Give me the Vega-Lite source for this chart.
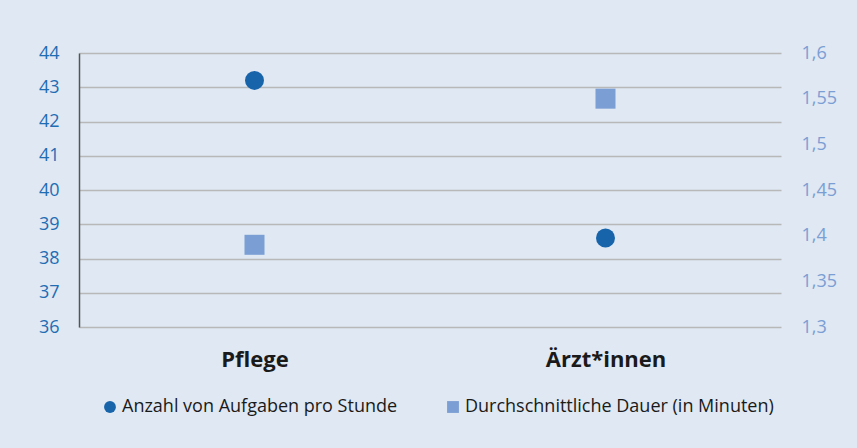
{
  "$schema": "https://vega.github.io/schema/vega-lite/v6.json",
  "autosize": {"type": "none"},
  "width": 702,
  "height": 274,
  "padding": {"left": 79, "top": 53, "right": 76, "bottom": 121},
  "background": "#dfe8f3",
  "config": {
    "view": {"stroke": null},
    "font": "Open Sans",
    "axis": {"labelFont": "Open Sans"},
    "legend": {"labelFont": "Open Sans"}
  },
  "data": {
    "values": [
      {"kategorie": "Pflege", "reihe": "Anzahl von Aufgaben pro Stunde", "wert": 43.2},
      {"kategorie": "Ärzt*innen", "reihe": "Anzahl von Aufgaben pro Stunde", "wert": 38.6},
      {"kategorie": "Pflege", "reihe": "Durchschnittliche Dauer (in Minuten)", "wert": 1.39},
      {"kategorie": "Ärzt*innen", "reihe": "Durchschnittliche Dauer (in Minuten)", "wert": 1.55}
    ]
  },
  "encoding": {
    "x": {
      "field": "kategorie",
      "type": "nominal",
      "sort": ["Pflege", "Ärzt*innen"],
      "scale": {"paddingInner": 0, "paddingOuter": 0},
      "axis": {
        "title": null,
        "labelAngle": 0,
        "labelFontSize": 22,
        "labelFontWeight": "bold",
        "labelColor": "#1a1a1a",
        "labelPadding": 22,
        "ticks": false,
        "domain": false
      }
    },
    "color": {
      "field": "reihe",
      "type": "nominal",
      "scale": {
        "domain": ["Anzahl von Aufgaben pro Stunde", "Durchschnittliche Dauer (in Minuten)"],
        "range": ["#1764ab", "#7b9ed4"]
      },
      "legend": {
        "title": null,
        "orient": "none",
        "direction": "horizontal",
        "legendX": 22,
        "legendY": 345,
        "labelFontSize": 18,
        "labelLimit": 0,
        "labelColor": "#1a1a1a",
        "symbolSize": 140,
        "symbolOpacity": 1,
        "columnPadding": 46,
        "labelOffset": 3
      }
    },
    "shape": {
      "field": "reihe",
      "type": "nominal",
      "scale": {
        "domain": ["Anzahl von Aufgaben pro Stunde", "Durchschnittliche Dauer (in Minuten)"],
        "range": ["circle", "square"]
      },
      "legend": null
    }
  },
  "layer": [
    {
      "transform": [{"filter": "datum.reihe === 'Anzahl von Aufgaben pro Stunde'"}],
      "mark": {"type": "point", "filled": true, "opacity": 1, "size": 360},
      "encoding": {
        "y": {
          "field": "wert",
          "type": "quantitative",
          "scale": {"domain": [36, 44], "zero": false, "nice": false},
          "axis": {
            "title": null,
            "orient": "left",
            "values": [36, 37, 38, 39, 40, 41, 42, 43, 44],
            "labelFontSize": 18,
            "labelColor": "#1f6db3",
            "labelPadding": 20,
            "ticks": false,
            "domainColor": "#555555",
            "domainWidth": 1.5,
            "grid": true,
            "gridColor": "#b8b8b8",
            "gridWidth": 1.3
          }
        }
      }
    },
    {
      "transform": [{"filter": "datum.reihe === 'Durchschnittliche Dauer (in Minuten)'"}],
      "mark": {"type": "point", "filled": true, "opacity": 1, "size": 400},
      "encoding": {
        "y": {
          "field": "wert",
          "type": "quantitative",
          "scale": {"domain": [1.3, 1.6], "zero": false, "nice": false},
          "axis": {
            "title": null,
            "orient": "right",
            "values": [1.3, 1.35, 1.4, 1.45, 1.5, 1.55, 1.6],
            "labelExpr": "replace(format(datum.value, '.2~f'), '.', ',')",
            "labelFontSize": 18,
            "labelColor": "#7b9ed4",
            "labelPadding": 20,
            "ticks": false,
            "domain": false,
            "grid": false
          }
        }
      }
    }
  ],
  "resolve": {"scale": {"y": "independent"}}
}
